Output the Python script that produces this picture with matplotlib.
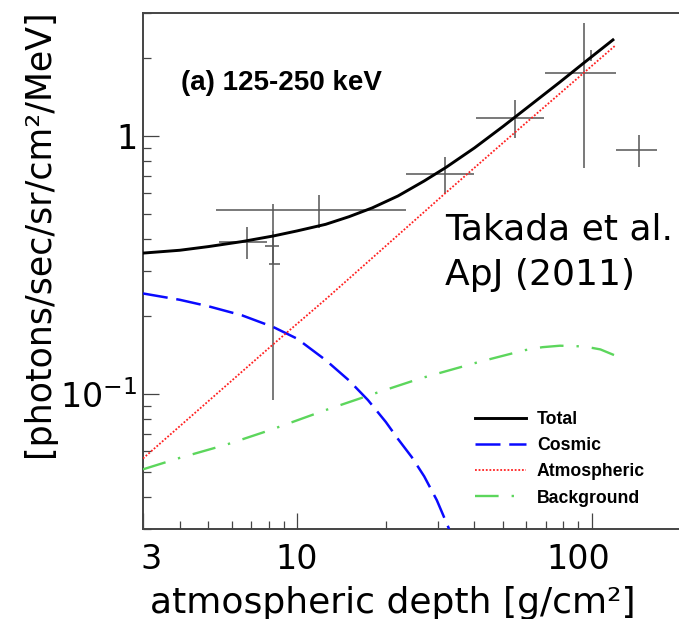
import numpy as np
import matplotlib.pyplot as plt
from matplotlib.ticker import LogLocator, NullFormatter
from matplotlib.transforms import ScaledTranslation

plt.rcParams['font.family'] = ['DejaVu Sans']
plt.rcParams['mathtext.default'] = 'regular'

# Model curves (x in g/cm2, y in photons/sec/sr/cm2/MeV)
total_x = [3, 4, 5, 6.5, 8.3, 10, 12.5, 15, 18, 22, 27, 32, 40, 50, 62, 78, 95, 118]
total_y = [0.352, 0.361, 0.373, 0.390, 0.41, 0.429, 0.455, 0.487, 0.527, 0.586, 0.67, 0.756,
           0.90, 1.09, 1.32, 1.62, 1.94, 2.36]

cosmic_x = [3, 4, 5, 6.5, 8.3, 10, 12.5, 15, 17.4, 20, 22, 24.5, 27, 29.8, 32.8]
cosmic_y = [0.2455, 0.232, 0.219, 0.202, 0.182, 0.164, 0.1355, 0.113, 0.0948, 0.078, 0.067,
            0.057, 0.048, 0.0388, 0.03]

atmo_x = [3, 8.3, 12.5, 31.7, 54.7, 120]
atmo_y = [0.0563, 0.156, 0.233, 0.598, 1.03, 2.24]

bkg_x = [3, 4, 5.78, 8.09, 12.5, 18.35, 26.2, 41.6, 59.3, 68, 78, 94.3, 107, 119]
bkg_y = [0.0511, 0.0566, 0.0638, 0.0725, 0.0867, 0.1006, 0.115, 0.1334, 0.148, 0.152, 0.154,
         0.153, 0.149, 0.1417]

# Measured points (crosses)
pt_x = np.array([6.77, 8.3, 8.3, 11.85, 31.7, 54.7, 94.2, 99.2, 144.2])
pt_y = np.array([0.389, 0.375, 0.32, 0.517, 0.716, 1.18, 1.75, 2.05, 0.885])
pt_yerr = np.array([0.054, 0.055, 0.225, 0.075, 0.116, 0.2, 1.0, 0.1, 0.125])
pt_xlo = np.array([5.45, 7.77, 8.04, 5.30, 23.4, 40.6, 69.4, 99.2, 121])
pt_xhi = np.array([7.88, 8.66, 8.75, 23.4, 39.9, 68.9, 120.5, 99.2, 167])

xtick_vals = [3, 10, 100]
xtick_labels = ['3', '10', '100']
ytick_vals = [0.1, 1]
ytick_labels = ['$10^{-1}$', '1']

fig = plt.figure(figsize=(6.79, 6.19), dpi=100)
ax = fig.add_axes([0.2106, 0.1454, 0.8336, 0.8336])

ax.errorbar(pt_x, pt_y, xerr=[pt_x - pt_xlo, pt_xhi - pt_x], yerr=pt_yerr,
            fmt='none', ecolor='#555555', elinewidth=1.1, capsize=0, zorder=2)

ax.plot(total_x, total_y, color='black', lw=2.1, label='Total', zorder=5)
ax.plot(cosmic_x, cosmic_y, color='#0a0aff', lw=1.8, ls=(0, (10, 3.5)), label='Cosmic', zorder=4)
ax.plot(atmo_x, atmo_y, color='#ff2020', lw=1.3, ls=(0, (1, 1)), label='Atmospheric', zorder=4)
ax.plot(bkg_x, bkg_y, color='#5cd65c', lw=1.7, ls=(0, (10, 5.5, 1, 5.5)), label='Background', zorder=4)

ax.set_xscale('log')
ax.set_yscale('log')
ax.set_xlim(3, 250)
ax.set_ylim(0.03, 3)

ax.set_xticks(xtick_vals, xtick_labels)
ax.set_yticks(ytick_vals, ytick_labels)
ax.xaxis.set_minor_locator(LogLocator(base=10, subs=np.arange(2, 10)))
ax.yaxis.set_minor_locator(LogLocator(base=10, subs=np.arange(2, 10)))
ax.xaxis.set_minor_formatter(NullFormatter())
ax.yaxis.set_minor_formatter(NullFormatter())

ax.tick_params(which='major', direction='in', length=11.5, width=0.9, color='#444444', labelsize=24)
ax.tick_params(which='minor', direction='in', length=5.8, width=0.9, color='#444444')
ax.tick_params(axis='x', which='major', pad=10)
ax.tick_params(axis='y', which='major', pad=4)

for s in ax.spines.values():
    s.set_linewidth(1.4)
    s.set_color('#444444')

# small horizontal shifts of the x tick labels as in the original
for lab, dx in zip(ax.xaxis.get_majorticklabels(), [8, 0, -13]):
    lab.set_transform(lab.get_transform() + ScaledTranslation(dx / 100, 0, fig.dpi_scale_trans))

fig.text(0.578, 0.0097, 'atmospheric depth [g/cm²]', fontsize=26, ha='center', va='baseline')
fig.text(0.057, 0.623, '[photons/sec/sr/cm²/MeV]', fontsize=25, ha='center', va='center', rotation=90)

fig.text(0.2666, 0.855, '(a) 125-250 keV', fontsize=20, fontweight='bold',
         family='Liberation Sans', va='baseline')
fig.text(0.655, 0.6123, 'Takada et al.', fontsize=26, va='baseline')
fig.text(0.655, 0.5396, 'ApJ (2011)', fontsize=26, va='baseline')

ax.legend(loc='upper left', bbox_to_anchor=(0.6996, 0.336), bbox_transform=fig.transFigure,
          frameon=False, borderpad=0, borderaxespad=0, handlelength=2.9, handletextpad=0.6,
          labelspacing=0.52, prop={'family': 'Liberation Sans', 'weight': 'bold', 'size': 12.7})

fig.savefig('out.png', dpi=100)
